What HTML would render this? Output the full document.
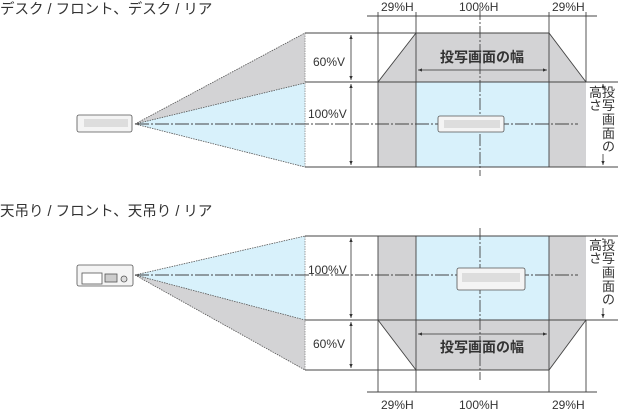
<!DOCTYPE html>
<html><head><meta charset="utf-8"><style>
html,body{margin:0;padding:0;background:#fff;}
svg{display:block;}
text{font-family:"Liberation Sans","Noto Sans CJK JP",sans-serif;fill:#333;}
</style></head><body>
<svg width="618" height="410" viewBox="0 0 618 410" xmlns="http://www.w3.org/2000/svg">
<defs>
<marker id="a" viewBox="0 0 6 6" refX="6" refY="3" markerWidth="5" markerHeight="5" orient="auto-start-reverse"><path d="M0,0.5 L6,3 L0,5.5 z" fill="#333"/></marker>
</defs>
<!-- ========== TOP ========== -->
<text x="0" y="14" font-size="14.5">デスク / フロント、デスク / リア</text>
<!-- frustum -->
<polygon points="135,124 305,33 305,83" fill="#d3d3d5"/>
<polygon points="135,124 305,83 305,167" fill="#d8f1fb"/>
<path d="M135,124 L305,33 M135,124 L305,83 M135,124 L305,167" stroke="#555" stroke-width="0.8" fill="none" stroke-dasharray="1.5,1"/>
<line x1="305" y1="33" x2="305" y2="167" stroke="#888" stroke-width="0.8" stroke-dasharray="1.5,1"/>
<!-- right panel -->
<polygon points="416,33 549,33 586,82 378,82" fill="#d3d3d5"/>
<rect x="378" y="82" width="38" height="85" fill="#d3d3d5"/>
<rect x="549" y="82" width="37" height="85" fill="#d3d3d5"/>
<rect x="416" y="82" width="133" height="85" fill="#d8f1fb"/>
<g stroke="#444" stroke-width="0.9" fill="none">
<path d="M305,33 H549 L586,82 M416,33 L378,82"/>
<path d="M305,82 H620 M305,167 H620"/>
<path d="M378,12 V167 M416,12 V167 M549,12 V167 M586,12 V82"/>
<path d="M367,16 H597"/>
<path d="M480,8 V176" stroke-dasharray="12,2,2,2"/>
<path d="M135,124 H578" stroke-dasharray="14,2,2,2"/>
</g>
<g stroke="#333" stroke-width="0.8">
<line x1="351" y1="35" x2="351" y2="80" marker-start="url(#a)" marker-end="url(#a)"/>
<line x1="351" y1="84" x2="351" y2="165" marker-start="url(#a)" marker-end="url(#a)"/>
<line x1="418" y1="70" x2="547" y2="70" marker-start="url(#a)" marker-end="url(#a)"/>
<line x1="603" y1="84" x2="603" y2="165" marker-start="url(#a)" marker-end="url(#a)"/>
</g>
<rect x="588" y="88" width="26" height="66" fill="#fff"/>
<text x="313" y="66" font-size="12">60%V</text>
<text x="308" y="118" font-size="12">100%V</text>
<text x="381" y="11" font-size="12">29%H</text>
<text x="459" y="11" font-size="12">100%H</text>
<text x="552" y="11" font-size="12">29%H</text>
<text x="482" y="62" font-size="14" text-anchor="middle" font-weight="bold" fill="#444">投写画面の幅</text>
<g font-size="13">
<text x="602" y="97">投</text><text x="602" y="110">写</text><text x="602" y="124">画</text><text x="602" y="138">面</text><text x="602" y="151">の</text>
<text x="589" y="97">高</text><text x="589" y="110">さ</text>
</g>
<!-- projectors top -->
<g stroke="#555" stroke-width="0.8">
<rect x="77" y="115" width="55" height="17" rx="2" fill="#f4f4f4"/>
<rect x="84" y="119" width="44" height="8" fill="#ddd" stroke="none"/>
<rect x="438" y="116" width="66" height="16" rx="2" fill="#f4f4f4"/>
<rect x="444" y="120" width="56" height="8" fill="#ddd" stroke="none"/>
</g>
<!-- ========== BOTTOM ========== -->
<text x="0" y="216" font-size="14.5">天吊り / フロント、天吊り / リア</text>
<polygon points="135,275 305,320 305,370" fill="#d3d3d5"/>
<polygon points="135,275 305,236 305,320" fill="#d8f1fb"/>
<path d="M135,275 L305,236 M135,275 L305,320 M135,275 L305,370" stroke="#555" stroke-width="0.8" fill="none" stroke-dasharray="1.5,1"/>
<line x1="305" y1="236" x2="305" y2="370" stroke="#888" stroke-width="0.8" stroke-dasharray="1.5,1"/>
<polygon points="378,320 586,320 549,370 416,370" fill="#d3d3d5"/>
<rect x="378" y="236" width="38" height="84" fill="#d3d3d5"/>
<rect x="549" y="236" width="37" height="84" fill="#d3d3d5"/>
<rect x="416" y="236" width="133" height="84" fill="#d8f1fb"/>
<g stroke="#444" stroke-width="0.9" fill="none">
<path d="M305,236 H620 M305,320 H620 M305,370 H549 L586,320 M378,320 L416,370"/>
<path d="M378,236 V392 M416,236 V392 M549,236 V392 M586,320 V392"/>
<path d="M367,392 H597"/>
<path d="M480,228 V380" stroke-dasharray="12,2,2,2"/>
<path d="M135,275 H578" stroke-dasharray="14,2,2,2"/>
</g>
<g stroke="#333" stroke-width="0.8">
<line x1="351" y1="238" x2="351" y2="318" marker-start="url(#a)" marker-end="url(#a)"/>
<line x1="351" y1="322" x2="351" y2="368" marker-start="url(#a)" marker-end="url(#a)"/>
<line x1="418" y1="334" x2="547" y2="334" marker-start="url(#a)" marker-end="url(#a)"/>
<line x1="603" y1="238" x2="603" y2="318" marker-start="url(#a)" marker-end="url(#a)"/>
</g>
<rect x="588" y="240" width="26" height="68" fill="#fff"/>
<text x="308" y="274" font-size="12">100%V</text>
<text x="313" y="348" font-size="12">60%V</text>
<text x="381" y="409" font-size="12">29%H</text>
<text x="459" y="409" font-size="12">100%H</text>
<text x="552" y="409" font-size="12">29%H</text>
<text x="482" y="352" font-size="14" text-anchor="middle" font-weight="bold" fill="#444">投写画面の幅</text>
<g font-size="13">
<text x="602" y="250">投</text><text x="602" y="263">写</text><text x="602" y="277">画</text><text x="602" y="291">面</text><text x="602" y="304">の</text>
<text x="589" y="250">高</text><text x="589" y="263">さ</text>
</g>
<g stroke="#555" stroke-width="0.8">
<rect x="77" y="265" width="56" height="21" rx="2" fill="#f4f4f4"/>
<rect x="82" y="273" width="20" height="11" fill="#fff"/>
<rect x="105" y="274" width="12" height="8" fill="#ccc"/>
<circle cx="124" cy="279" r="3" fill="#ddd"/>
<rect x="457" y="268" width="68" height="22" rx="2" fill="#f4f4f4"/>
<rect x="462" y="273" width="58" height="9" fill="#ddd" stroke="none"/>
</g>
</svg>
</body></html>
